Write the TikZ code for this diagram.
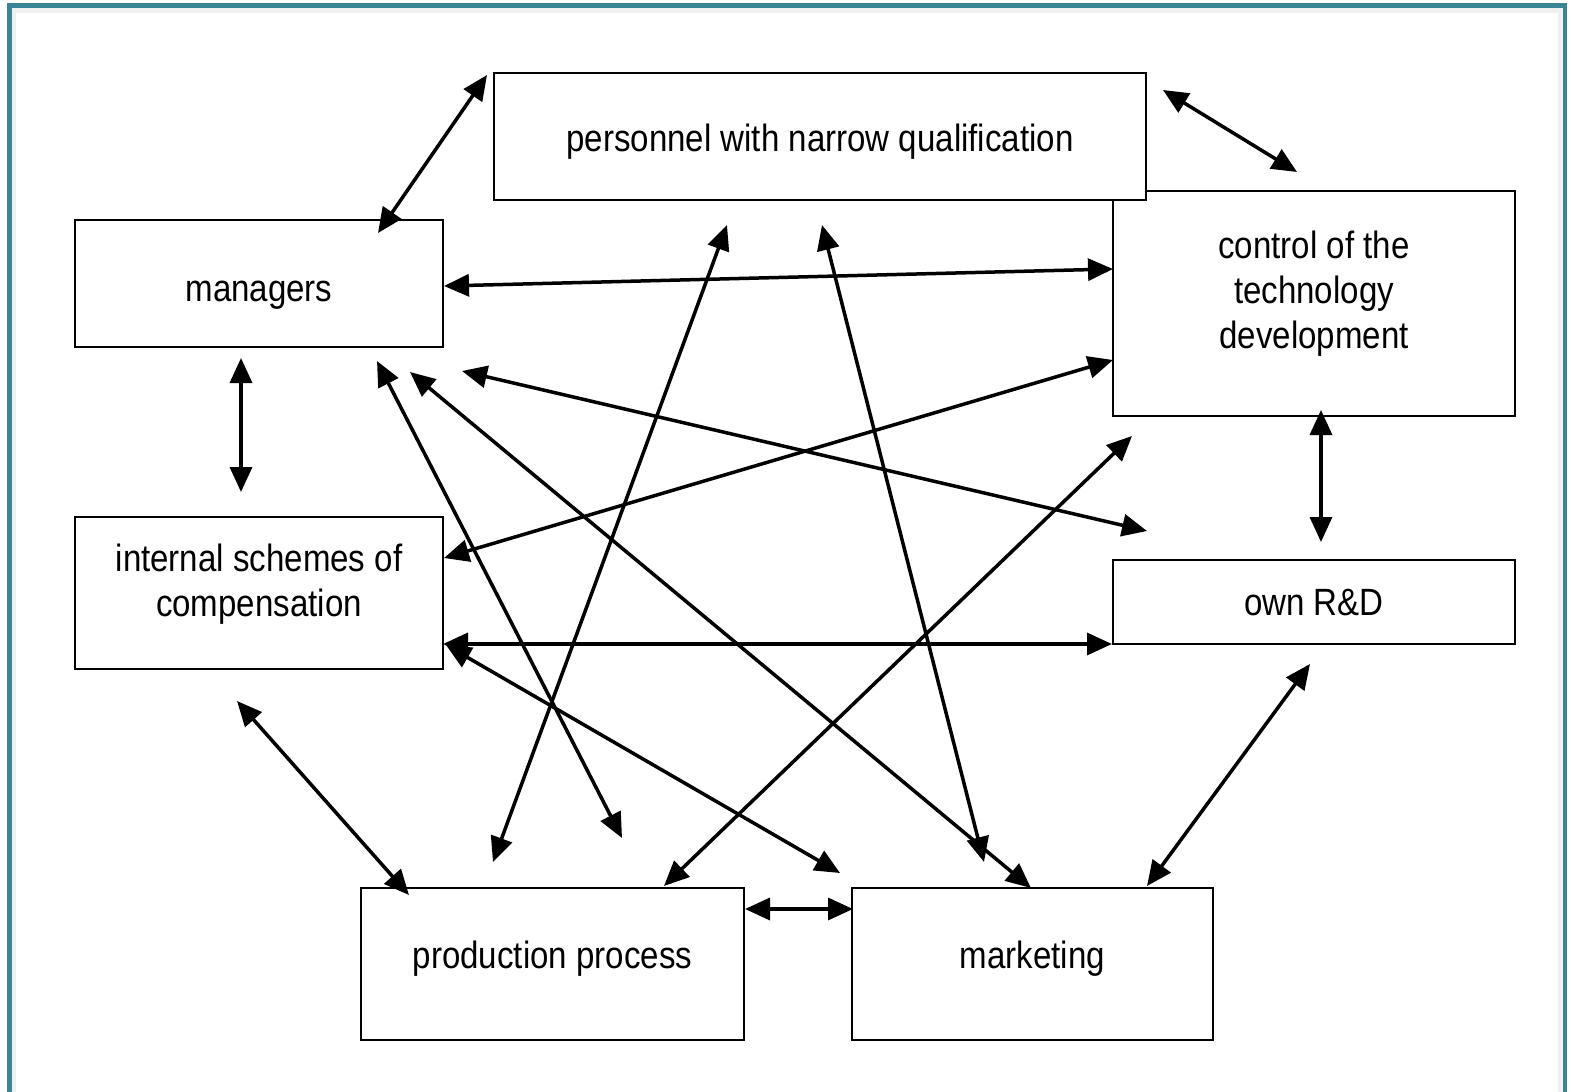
\documentclass[tikz,border=0pt]{standalone}
\usepackage{fontspec}
\setmainfont{Liberation Sans}[FakeStretch=0.87]
\usetikzlibrary{arrows.meta}
\definecolor{frameteal}{HTML}{3A8497}
\newcommand{\boxfont}{\fontsize{19pt}{22.5pt}\selectfont}
\begin{document}
\begin{tikzpicture}[x=0.5pt,y=-0.5pt,
  box/.style={draw, line width=1.35pt, inner sep=0pt, fill=white},
  lbl/.style={inner sep=0pt, align=center, font=\boxfont},
  con/.style={line width=1.75pt,
    {Triangle[length=12.5pt,width=11pt]}-{Triangle[length=12.5pt,width=11pt]}}]
\useasboundingbox (0,0) rectangle (1571,1092);
\fill[white] (0,0) rectangle (1571,1092);
% frame
\draw[gray!12, line width=3pt] (13,1092) -- (13,10) -- (1561,10) -- (1561,1092);
\draw[frameteal, line width=2.2pt] (9.5,1092) -- (9.5,5.5) -- (1565,5.5) -- (1565,1092);

% boxes
\node[box, minimum width=184pt, minimum height=63.5pt] (mgr) at (259,283.5) {};
\node[box, minimum width=201pt, minimum height=112.5pt] (ctrl) at (1314,303.5) {};
\node[box, minimum width=326pt, minimum height=63.5pt] (pers) at (820,136.5) {};
\node[box, minimum width=184pt, minimum height=76pt] (comp) at (259,593) {};
\node[box, minimum width=201pt, minimum height=42pt] (rnd) at (1314,602) {};
\node[box, minimum width=191.5pt, minimum height=76pt] (prod) at (552.5,964) {};
\node[box, minimum width=180.5pt, minimum height=76pt] (mkt) at (1032.5,964) {};

% texts
\node[lbl, anchor=base] (tpers) at (820,151) {personnel with narrow qualification};
\node[lbl, anchor=base] (tmgr) at (259,301) {managers};
\node[lbl] (tctrl) at (1314,294) {control of the\\technology\\development};
\node[lbl] (tcomp) at (259,584) {internal schemes of\\compensation};
\node[lbl, anchor=base] (trnd) at (1314,615) {own R\&D};
\node[lbl, anchor=base] (tprod) at (552.5,968) {production process};
\node[lbl, anchor=base] (tmkt) at (1032.5,968) {marketing};

% connector end points
\coordinate (a1s) at (378,233);  \coordinate (a1e) at (487,75);
\coordinate (a2s) at (1163,90);  \coordinate (a2e) at (1297,172);
\coordinate (a3s) at (444,286);  \coordinate (a3e) at (1113,269);
\coordinate (a4s) at (241,358);  \coordinate (a4e) at (241,492);
\coordinate (a5s) at (1321,410); \coordinate (a5e) at (1321,542);
\coordinate (a6s) at (444,558);  \coordinate (a6e) at (1113,360);
\coordinate (a7s) at (443,644);  \coordinate (a7e) at (1112,644);
\coordinate (a8s) at (446,645);  \coordinate (a8e) at (840,873);
\coordinate (a9s) at (237,701);  \coordinate (a9e) at (409,895);
\coordinate (a10s) at (745,909); \coordinate (a10e) at (853,909);
\coordinate (a11s) at (1310,664);\coordinate (a11e) at (1147,886);
\coordinate (a12s) at (493,862); \coordinate (a12e) at (727,225);
\coordinate (a13s) at (822,225); \coordinate (a13e) at (984,862);
\coordinate (a14s) at (664,886); \coordinate (a14e) at (1132,436);
\coordinate (a15s) at (410,372); \coordinate (a15e) at (1031,888);
\coordinate (a16s) at (377,361); \coordinate (a16e) at (622,838);
\coordinate (a17s) at (462,371); \coordinate (a17e) at (1147,531);

% connectors
\draw[con] (a1s) -- (a1e);
\draw[con] (a2s) -- (a2e);
\draw[con] (a3s) -- (a3e);
\draw[con] (a4s) -- (a4e);
\draw[con] (a5s) -- (a5e);
\draw[con] (a6s) -- (a6e);
\draw[con] (a7s) -- (a7e);
\draw[con] (a8s) -- (a8e);
\draw[con] (a9s) -- (a9e);
\draw[con] (a10s) -- (a10e);
\draw[con] (a11s) -- (a11e);
\draw[con] (a12s) -- (a12e);
\draw[con] (a13s) -- (a13e);
\draw[con] (a14s) -- (a14e);
\draw[con] (a15s) -- (a15e);
\draw[con] (a16s) -- (a16e);
\draw[con] (a17s) -- (a17e);
\end{tikzpicture}
\end{document}
